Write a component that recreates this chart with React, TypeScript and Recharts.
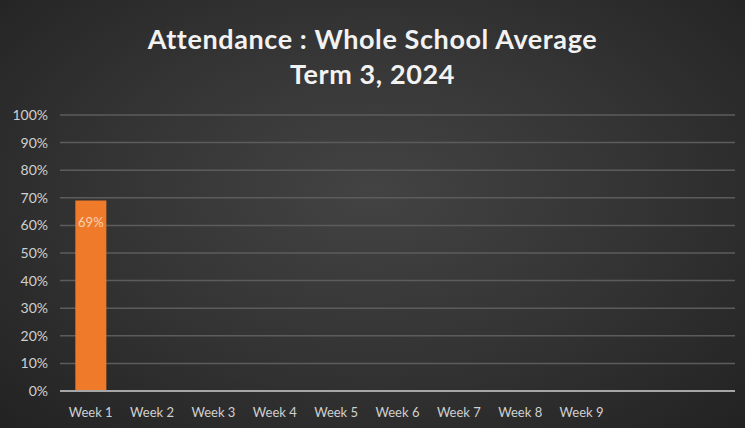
import React from 'react';
import { BarChart, Bar, XAxis, YAxis, CartesianGrid, LabelList } from 'recharts';

// 11 slots on the axis, only 9 labelled, only week 1 has data so far
const weeks = ['Week 1', 'Week 2', 'Week 3', 'Week 4', 'Week 5', 'Week 6', 'Week 7', 'Week 8', 'Week 9', '', ' '];
const attendance = [69, null, null, null, null, null, null, null, null, null, null];
const yTicks = [0, 10, 20, 30, 40, 50, 60, 70, 80, 90, 100];

const data = weeks.map((w, i) => ({ week: w, value: attendance[i] }));

const font = 'Lato, "Open Sans", sans-serif';

export default function App() {
  return (
    <div
      style={{
        position: 'absolute',
        left: 0,
        top: 0,
        width: 745,
        height: 428,
        background: 'radial-gradient(ellipse at 50% 45%, #434343 0%, #343434 50%, #222222 100%)',
        fontFamily: font,
        overflow: 'hidden',
      }}
    >
      <div
        style={{
          position: 'absolute',
          top: 21,
          left: 0,
          width: 745,
          textAlign: 'center',
          color: '#f2f2f2',
          fontWeight: 700,
          fontSize: 27,
          lineHeight: '35px',
          letterSpacing: 0.6,
        }}
      >
        <div>Attendance : Whole School Average</div>
        <div>Term 3, 2024</div>
      </div>
      <BarChart
        width={745}
        height={428}
        data={data}
        margin={{ top: 115, right: 10, bottom: 7, left: 0 }}
        barCategoryGap="25%"
        style={{ position: 'absolute', left: 0, top: 0 }}
      >
        <CartesianGrid vertical={false} stroke="#5c5c5c" strokeWidth={1.5} />
        <XAxis
          dataKey="week"
          height={30}
          interval={0}
          tickLine={false}
          tickSize={0}
          tickMargin={17}
          axisLine={{ stroke: '#a6a6a6', strokeWidth: 2 }}
          tick={{ fill: '#d0d0d0', fontSize: 13, fontFamily: font }}
        />
        <YAxis
          width={60}
          domain={[0, 100]}
          ticks={yTicks}
          interval={0}
          tickFormatter={(v: number) => `${v}%`}
          axisLine={false}
          tickLine={false}
          tickSize={0}
          tickMargin={12}
          tick={{ fill: '#d0d0d0', fontSize: 14, fontFamily: font }}
        />
        <Bar dataKey="value" fill="#ef7b2a" isAnimationActive={false}>
          <LabelList
            dataKey="value"
            position="insideTop"
            offset={17}
            formatter={(v: any) => (v == null ? '' : `${v}%`)}
            style={{ fill: '#f6d2b4', fontSize: 13, fontFamily: font }}
          />
        </Bar>
      </BarChart>
    </div>
  );
}
